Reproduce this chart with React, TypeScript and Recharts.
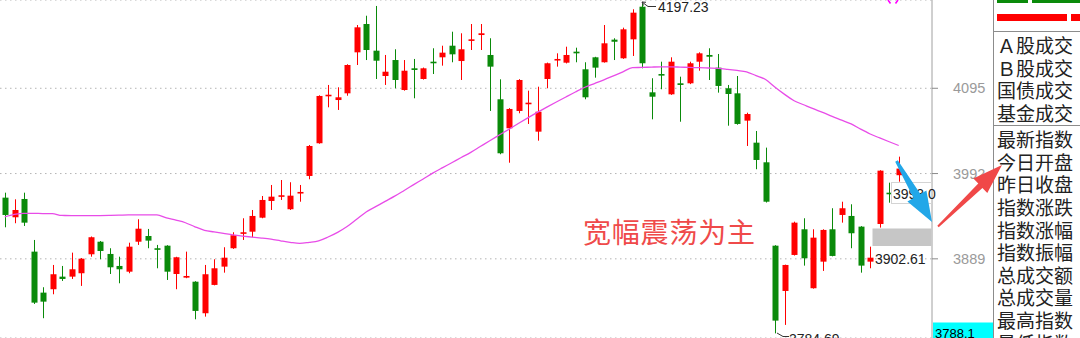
import React from "react";
import { ComposedChart, Bar, Line, XAxis, YAxis, CartesianGrid } from "recharts";

// ---- data ----
const opens = [
  3962.9, 3939.2, 3961.3, 3897.7, 3848.2, 3852.3, 3867.5, 3867.5, 3871.6, 3894.5,
  3909.7, 3894.9, 3880.4, 3873.5, 3909.7, 3916.6, 3901.8, 3904.9, 3870.7, 3866.3,
  3861.4, 3823.3, 3857.5, 3879.6, 3901.8, 3919.9, 3921.8, 3938.7, 3958.9, 3964.6,
  3948.9, 3968.6, 3989.1, 4028.6, 4086.0, 4080.8, 4088.9, 4138.4, 4172.6, 4140.4,
  4109.8, 4129.1, 4092.9, 4119.1, 4106.2, 4127.1, 4132.4, 4146.4, 4127.9, 4152.5,
  4159.3, 4135.2, 4081.7, 4046.7, 4067.6, 4076.0, 4042.6, 4106.2, 4129.1, 4125.9,
  4139.2, 4117.9, 4132.4, 4126.4, 4153.7, 4131.2, 4154.1, 4193.5, 4090.1, 4112.2,
  4087.7, 4101.0, 4101.0, 4127.1, 4135.2, 4119.9, 4095.0, 4088.9, 4055.9, 4029.3,
  4005.6, 3904.9, 3850.2, 3893.7, 3924.7, 3853.5, 3885.6, 3924.7, 3942.0, 3940.8,
  3927.9, 3885.6, 3931.1, 3968.9, 3990.0,
];
const highs = [
  3968.9, 3960.9, 3968.9, 3911.8, 3854.7, 3881.6, 3880.4, 3896.5, 3890.0, 3916.0,
  3910.5, 3901.8, 3891.6, 3908.5, 3936.8, 3925.1, 3905.8, 3905.5, 3891.5, 3897.7,
  3862.0, 3881.6, 3888.5, 3903.0, 3921.1, 3938.0, 3948.0, 3964.9, 3978.2, 3984.2,
  3981.5, 3978.2, 4026.5, 4086.5, 4099.0, 4096.2, 4124.0, 4171.4, 4182.6, 4194.4,
  4135.2, 4142.1, 4129.1, 4130.4, 4120.0, 4143.3, 4146.4, 4163.3, 4161.4, 4172.6,
  4172.6, 4155.4, 4105.8, 4071.0, 4106.0, 4092.1, 4096.9, 4126.0, 4137.2, 4145.2,
  4144.0, 4126.4, 4133.0, 4171.4, 4155.4, 4168.2, 4190.4, 4197.23, 4107.1, 4127.1,
  4132.4, 4109.0, 4127.1, 4138.4, 4143.3, 4136.4, 4099.0, 4109.8, 4065.5, 4043.4,
  4023.3, 3905.5, 3882.0, 3933.9, 3938.0, 3924.7, 3924.7, 3950.1, 3958.0, 3954.9,
  3928.5, 3903.7, 3996.0, 3981.0, 4012.4,
];
const lows = [
  3927.1, 3932.0, 3928.7, 3834.5, 3817.3, 3846.2, 3862.3, 3864.7, 3856.3, 3891.6,
  3888.5, 3870.7, 3859.5, 3871.6, 3905.8, 3901.8, 3877.6, 3863.5, 3852.3, 3865.6,
  3816.0, 3819.2, 3857.0, 3872.3, 3901.0, 3911.8, 3915.1, 3938.0, 3948.0, 3960.1,
  3948.0, 3958.0, 3985.1, 4028.0, 4072.0, 4068.8, 4086.0, 4123.1, 4129.1, 4106.2,
  4099.0, 4095.0, 4092.1, 4082.9, 4105.5, 4112.2, 4122.3, 4126.4, 4105.0, 4141.2,
  4141.2, 4067.6, 4015.3, 4005.1, 4064.8, 4051.9, 4031.7, 4095.0, 4121.1, 4125.0,
  4126.4, 4081.7, 4107.8, 4126.0, 4129.1, 4130.5, 4134.0, 4119.1, 4057.5, 4093.8,
  4087.0, 4054.6, 4100.0, 4116.2, 4105.0, 4089.7, 4049.8, 4051.0, 4025.3, 3997.2,
  3957.0, 3799.0, 3809.2, 3893.0, 3880.8, 3853.0, 3874.4, 3892.0, 3932.7, 3901.8,
  3872.3, 3877.6, 3926.7, 3956.8, 3982.2,
];
const closes = [
  3942.0, 3948.0, 3932.7, 3836.1, 3837.3, 3870.4, 3864.7, 3876.4, 3889.2, 3915.1,
  3898.5, 3878.8, 3876.4, 3903.7, 3925.4, 3911.0, 3900.6, 3873.5, 3890.9, 3868.3,
  3826.1, 3870.4, 3877.6, 3890.4, 3917.5, 3921.1, 3940.8, 3960.1, 3964.1, 3965.8,
  3965.3, 3969.8, 4025.3, 4085.7, 4087.2, 4084.1, 4123.1, 4168.6, 4141.2, 4128.3,
  4115.0, 4105.0, 4116.2, 4117.1, 4119.1, 4125.2, 4138.0, 4136.0, 4142.1, 4154.1,
  4161.4, 4121.1, 4016.5, 4070.0, 4105.0, 4077.6, 4066.7, 4125.2, 4130.4, 4135.2,
  4137.2, 4084.1, 4119.9, 4149.3, 4151.2, 4166.2, 4186.3, 4125.2, 4084.8, 4110.7,
  4127.1, 4099.0, 4125.2, 4137.2, 4133.1, 4097.8, 4088.1, 4051.9, 4063.9, 4008.4,
  3958.0, 3814.4, 3881.6, 3932.7, 3889.7, 3914.6, 3923.9, 3892.5, 3950.1, 3919.9,
  3880.8, 3890.4, 3995.5, 3967.3, 3998.0,
];
const maLine = [
  3939.6, 3942.6, 3944.0, 3943.9, 3943.7, 3943.6, 3941.4, 3941.3, 3941.3, 3941.1,
  3941.3, 3941.5, 3941.7, 3942.0, 3942.0, 3942.0, 3942.0, 3938.4, 3935.7, 3932.6,
  3927.7, 3923.5, 3921.5, 3919.7, 3917.9, 3916.5, 3915.3, 3914.1, 3912.7, 3910.8,
  3909.0, 3907.6, 3908.9, 3910.8, 3915.4, 3921.0, 3928.0, 3936.8, 3945.6, 3952.0,
  3958.4, 3964.7, 3971.6, 3978.6, 3985.5, 3992.5, 3998.9, 4005.1, 4011.4, 4017.6,
  4024.6, 4031.6, 4038.5, 4045.4, 4052.4, 4059.2, 4065.9, 4072.2, 4078.4, 4084.5,
  4090.5, 4096.2, 4100.7, 4105.1, 4110.0, 4114.9, 4119.9, 4120.2, 4120.6, 4120.9,
  4120.9, 4120.6, 4120.2, 4119.9, 4119.5, 4119.1, 4117.9, 4116.5, 4114.9, 4110.2,
  4105.6, 4096.2, 4087.6, 4079.9, 4075.1, 4070.3, 4065.8, 4061.0, 4056.5, 4051.9,
  4045.6, 4039.8, 4035.0, 4030.4, 4025.9,
];
const yTicks = [3889, 3992, 4095];
const yDomain = [3793.4, 4201.6];
const emptySlots = 3;

const highLabel = "4197.23";
const lowLabel = "3784.69";
const recentLabel = "3902.61";
const lastLabel = "3993.0";
const axisPriceLabel = "3788.1";
const noteText = "宽幅震荡为主";
const panelTop = ["Ａ股成交", "Ｂ股成交", "国债成交", "基金成交"];
const panelBottom = [
  "最新指数", "今日开盘", "昨日收盘", "指数涨跌", "指数涨幅",
  "指数振幅", "总成交额", "总成交量", "最高指数", "最低指数",
];

// ---- styling ----
const UP = "#ff0000";
const DOWN = "#0a8a0a";
const MA_COLOR = "#e84ce8";
const NUM_FONT = "'Liberation Sans', Arial, sans-serif";
const CJK_FONT = "'Noto Sans CJK SC', sans-serif";

const data = [
  ...opens.map((o, i) => ({ idx: i, o, h: highs[i], l: lows[i], c: closes[i], ma: maLine[i] })),
  ...Array.from({ length: emptySlots }, (_, k) => ({
    idx: opens.length + k, o: null, h: null, l: null, c: null, ma: null,
  })),
];

const Candle = (props: any) => {
  const { x, y, width, height, payload } = props;
  if (!payload || payload.h == null || x == null || y == null) return <g />;
  const { o, h, l, c } = payload;
  const top = Math.min(y, y + height);
  const span = Math.abs(height);
  const py = (v: number) => (h === l ? top : top + ((h - v) / (h - l)) * span);
  const cx = Math.round(x + width / 2);
  const color = c >= o ? UP : DOWN;
  const bt = Math.min(py(o), py(c));
  const bb = Math.max(py(o), py(c));
  const bh = Math.max(1.6, bb - bt);
  return (
    <g>
      <line x1={cx + 0.5} x2={cx + 0.5} y1={top} y2={top + span} stroke={color} strokeWidth={1} />
      <rect x={cx - 2.5} y={bt} width={6} height={bh} fill={color} />
    </g>
  );
};

const AxisTick = (props: any) => {
  const { x, y, payload } = props;
  return (
    <text x={x + 15} y={y} dy={5} fill="#9a9a9a" fontSize={14.5} fontFamily={NUM_FONT}>
      {payload.value}
    </text>
  );
};

function arrowPoints(tail: number[], tip: number[], headLen: number, headHalf: number, tailHalf: number, neckHalf: number) {
  const dx = tip[0] - tail[0];
  const dy = tip[1] - tail[1];
  const len = Math.hypot(dx, dy);
  const ux = dx / len, uy = dy / len;
  const nx = -uy, ny = ux;
  const bx = tip[0] - ux * headLen, by = tip[1] - uy * headLen;
  const pts = [
    [tail[0] + nx * tailHalf, tail[1] + ny * tailHalf],
    [bx + nx * neckHalf, by + ny * neckHalf],
    [bx + nx * headHalf, by + ny * headHalf],
    tip,
    [bx - nx * headHalf, by - ny * headHalf],
    [bx - nx * neckHalf, by - ny * neckHalf],
    [tail[0] - nx * tailHalf, tail[1] - ny * tailHalf],
  ];
  return pts.map((p) => `${p[0].toFixed(1)},${p[1].toFixed(1)}`).join(" ");
}

export default function App() {
  return (
    <div style={{ position: "absolute", left: 0, top: 0, width: 1080, height: 338, overflow: "hidden", background: "#fff" }}>
      <div style={{ position: "absolute", left: 0, top: 0 }}>
        <ComposedChart width={990} height={338} data={data} margin={{ top: 0, right: 0, bottom: 0, left: 0 }}>
          <CartesianGrid vertical={false} stroke="#b4b4b4" strokeDasharray="1.5 3.5" />
          <XAxis dataKey="idx" type="category" hide />
          <YAxis
            orientation="right"
            width={58}
            domain={yDomain}
            allowDataOverflow
            ticks={yTicks}
            interval={0}
            tickSize={6}
            tickMargin={0}
            axisLine={{ stroke: "#a0a0a0" }}
            tickLine={{ stroke: "#8a8a8a" }}
            tick={<AxisTick />}
          />
          <Bar
            dataKey={(d: any) => (d.h == null ? null : [d.l, d.h])}
            barSize={6}
            shape={<Candle />}
            isAnimationActive={false}
          />
          <Line
            dataKey="ma"
            type="monotone"
            stroke={MA_COLOR}
            strokeWidth={1.3}
            dot={false}
            activeDot={false}
            isAnimationActive={false}
          />
        </ComposedChart>
      </div>
      <svg width={1080} height={338} style={{ position: "absolute", left: 0, top: 0, pointerEvents: "none" }}>
        {/* extreme labels */}
        <polyline points="642,2 648,6.5 656,6.5" fill="none" stroke="#333" strokeWidth={1} />
        <polyline points="646,2.3 642,2 643.5,5.5" fill="none" stroke="#333" strokeWidth={1} />
        <text x={658} y={12} fontSize={14} fontFamily={NUM_FONT} fill="#222">{highLabel}</text>
        <polyline points="777,333 783,336.5 789,336.5" fill="none" stroke="#333" strokeWidth={1} />
        <text x={789} y={343.5} fontSize={14} fontFamily={NUM_FONT} fill="#222">{lowLabel}</text>
        <text x={875} y={263.5} fontSize={14} fontFamily={NUM_FONT} fill="#222">{recentLabel}</text>

        {/* grey band and last-price box */}
        <rect x={872.5} y={228.5} width={59} height={17.5} fill="#c6c6c6" />
        <rect x={891.5} y={182.5} width={40} height={21} fill="#fff" stroke="#d4d4d4" />
        <text x={893} y={198.5} fontSize={14} fontFamily={NUM_FONT} fill="#222">{lastLabel}</text>

        {/* note text */}
        <text x={583} y={243} fontSize={28} letterSpacing={0.8} fontFamily={CJK_FONT} fill="#ef4a4a">{noteText}</text>

        {/* arrows */}
        <polygon points={arrowPoints([896.5, 161], [932, 222], 30, 11, 1.5, 4)} fill="#22a7e8" />

        {/* magenta mark */}
        <path d="M888,0 L890.5,3.5 M898,0 L895.5,3.5" stroke="#ff00ff" strokeWidth={1.6} fill="none" />

        {/* axis price box */}
        <rect x={933} y={322.5} width={60} height={16} fill="#00ffff" />
        <text x={935} y={337.5} fontSize={13} fontFamily={NUM_FONT} fill="#000">{axisPriceLabel}</text>

        {/* right info panel */}
        <line x1={993.5} x2={993.5} y1={0} y2={338} stroke="#8c8c8c" />
        <rect x={997} y={0} width={31} height={3} fill={DOWN} />
        <rect x={1032} y={0} width={48} height={3} fill={DOWN} />
        <rect x={997} y={14} width={70} height={7} fill={UP} />
        <rect x={1071} y={14} width={9} height={7} fill={UP} />
        <line x1={994} x2={1080} y1={31.5} y2={31.5} stroke="#8c8c8c" />
        <line x1={994} x2={1080} y1={125.5} y2={125.5} stroke="#8c8c8c" />
        {panelTop.map((t, i) => (
          <text key={t} x={997} y={53.2 + i * 22.6} fontSize={19} fontFamily={CJK_FONT} fill="#222">{t}</text>
        ))}
        {panelBottom.map((t, i) => (
          <text key={t} x={997} y={147.2 + i * 22.6} fontSize={19} fontFamily={CJK_FONT} fill="#222">{t}</text>
        ))}

        <polygon points={arrowPoints([938, 226.5], [1002, 165], 30, 10, 1, 3)} fill="#f04848" />
      </svg>
    </div>
  );
}
